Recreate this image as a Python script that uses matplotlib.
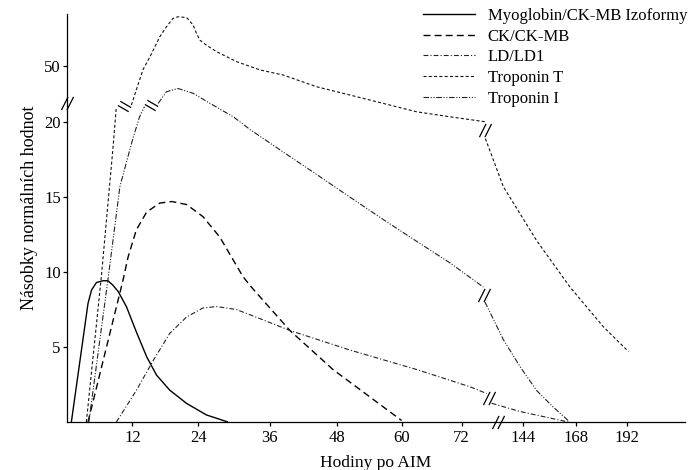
import numpy as np
import matplotlib
matplotlib.use('Agg')
import matplotlib.pyplot as plt
from matplotlib.path import Path
from matplotlib.lines import Line2D

plt.rcParams['font.family'] = ['Liberation Serif', 'DejaVu Serif']
plt.rcParams['lines.scale_dashes'] = False

nan = np.nan

# ---------------- data (hours after AMI, multiples of normal value) ----------------
myo_h = [0.8, 3.85, 4.5, 5.4, 6.6, 7.5, 8.4, 9.4, 10.9, 12.7, 14.6, 16.4, 18.8, 21.9, 25.4, 29.0]
myo_v = [0, 7.9, 8.8, 9.3, 9.42, 9.42, 9.13, 8.69, 7.69, 6.02, 4.35, 3.13, 2.13, 1.24, 0.47, 0]

ck_h = [3.85, 10.3, 11.2, 12.7, 14.6, 17.0, 19.2, 21.9, 24.8, 27.6, 31.5, 32.9, 39.6, 47.3, 60.0]
ck_v = [0, 9.5, 11.0, 12.8, 14.0, 14.6, 14.7, 14.5, 13.7, 12.35, 9.7, 9.0, 6.1, 3.5, 0.1]

ld_h = [9.06, 12.7, 15.8, 18.8, 21.9, 24.8, 27.1, 30.4, 34.3, 39.6, 50.4, 63.0, 81.8, 101.5,
        nan, 107.4, 140.8, 164.7]
ld_v = [0, 2.1, 4.1, 5.9, 7.0, 7.6, 7.7, 7.5, 6.9, 6.1, 4.8, 3.5, 2.35, 1.9,
        nan, 1.25, 0.7, 0]

tnt_h = [3.55, 6.3, 8.45, 9.05,
         nan, 11.8, 13.9, 15.2, 17.0, 18.2, 19.4, 20.3, 21.9, 23.1, 23.7, 24.3, 25.4, 27.1,
         30.5, 34.4, 38.4, 44.4, 50.4, 56.6, 63.0, 69.7, 99.5,
         nan, 100.0, 121.1, 150.3, 165.4, 181.0, 192.8]
tnt_v = [0, 9.7, 18.35, 28.2,
         nan, 29.1, 47.9, 55.0, 65.7, 71.0, 75.5, 76.4, 76.0, 72.0, 67.5, 63.9, 61.2, 57.7,
         52.3, 47.9, 45.2, 38.9, 34.5, 30.0, 25.5, 22.8, 20.2,
         nan, 18.9, 15.7, 12.1, 9.0, 6.35, 4.7]

tni_h = [4.0, 7.5, 9.7, 12.0, 13.3, 14.2,
         nan, 16.7, 18.2, 20.3, 23.1, 26.0, 29.9, 32.7, 38.4, 44.4, 50.4, 56.6, 62.3, 69.7, 97.5,
         nan, 99.5, 121.1, 140.8, 150.3, 157.8, 164.6]
tni_v = [0, 9.47, 15.7, 18.8, 22.8, 28.2,
         nan, 30.0, 36.2, 38.0, 35.4, 30.0, 22.8, 19.5, 18.0, 16.5, 15.0, 13.5, 12.2, 10.6, 9.0,
         nan, 8.0, 5.5, 3.7, 2.1, 1.0, 0.1]

labels = ['Myoglobin/CK-MB Izoformy', 'CK/CK-MB', 'LD/LD1', 'Troponin T', 'Troponin I']
x_ticks = [12, 24, 36, 48, 60, 72, 144, 168, 192]
y_ticks = [5, 10, 15, 20, 50]

# ---------------- broken-axis scales ----------------
H_KNOTS = np.array([-24, 0, 12, 24, 36, 48, 60, 72, 144, 168, 192, 400])
P_KNOTS = np.array([-130.8, 0, 65.4, 131.0, 202.7, 269.7, 334.4, 394.4, 455.4, 508.4, 559.4, 1001.4])
V_KNOTS = np.array([-20, 0, 20, 50, 200])
Q_KNOTS = np.array([-300, 0, 300, 356, 636])

def xf(h):
    return np.interp(h, H_KNOTS, P_KNOTS)

def xi(p):
    return np.interp(p, P_KNOTS, H_KNOTS)

def yf(v):
    return np.interp(v, V_KNOTS, Q_KNOTS)

def yi(q):
    return np.interp(q, Q_KNOTS, V_KNOTS)

fig = plt.figure(figsize=(6.92, 4.70), dpi=100)
ax = fig.add_axes([67 / 692, 48 / 470, 618 / 692, 408 / 470])
ax.set_xscale('function', functions=(xf, xi))
ax.set_yscale('function', functions=(yf, yi))

# break marker paths
steep = Path([(-5.5, -6), (0.5, 6), (-0.5, -6), (5.5, 6)],
             [Path.MOVETO, Path.LINETO, Path.MOVETO, Path.LINETO])
shallow = Path([(-4.35, 5.42), (6.85, -1.08), (-6.85, 1.08), (4.35, -5.42)],
               [Path.MOVETO, Path.LINETO, Path.MOVETO, Path.LINETO])

def split(h, v):
    segs, cur = [], ([], [])
    for a, b in zip(h, v):
        if np.isnan(a):
            segs.append(cur)
            cur = ([], [])
        else:
            cur[0].append(a)
            cur[1].append(b)
    segs.append(cur)
    return segs

styles = [
    dict(color='black', lw=1.0, linestyle='-'),
    dict(color='black', lw=1.0, linestyle=(0, (5.0, 3.0))),
    dict(color='#222222', lw=0.8, linestyle=(0, (3.5, 1.5, 0.8, 1.5))),
    dict(color='#111111', lw=0.8, linestyle=(0, (2.2, 1.6))),
    dict(color='#222222', lw=0.8, linestyle=(0, (4.0, 1.2, 0.8, 1.2, 0.8, 1.2))),
]
series = [(myo_h, myo_v), (ck_h, ck_v), (ld_h, ld_v), (tnt_h, tnt_v), (tni_h, tni_v)]

handles = []
for (h, v), st, lab in zip(series, styles, labels):
    segs = split(h, v)
    for s in segs:
        ax.plot(s[0], s[1], solid_capstyle='butt', dash_capstyle='butt', **st)
    for a, b in zip(segs[:-1], segs[1:]):
        x0, y0, x1, y1 = a[0][-1], a[1][-1], b[0][0], b[1][0]
        mx = xi((xf(x0) + xf(x1)) / 2)
        my = yi((yf(y0) + yf(y1)) / 2)
        mk = shallow if (y0 > 20 and x0 < 72) else steep
        ax.plot([mx], [my], linestyle='none', marker=mk, markersize=9.5,
                markerfacecolor='none', markeredgecolor='black', markeredgewidth=0.9,
                clip_on=False)
    handles.append(Line2D([], [], **st))

ax.set_xlim(0, 219.4)
ax.set_ylim(0, 77.9)
ax.set_xticks(x_ticks)
ax.set_xticklabels([str(t) for t in x_ticks])
ax.set_yticks(y_ticks)
ax.set_yticklabels([str(t) for t in y_ticks])
ax.minorticks_off()

for s in ['top', 'right']:
    ax.spines[s].set_visible(False)
for s in ['left', 'bottom']:
    ax.spines[s].set_linewidth(0.9)
ax.tick_params(axis='both', direction='out', length=3, width=0.9, labelsize=12)
ax.tick_params(axis='y', pad=1.5)
ax.tick_params(axis='x', pad=3)

# axis break marks
AXIS_BREAK_X = 115
AXIS_BREAK_Y = 30.2
ax.plot([AXIS_BREAK_X], [0], linestyle='none', marker=steep, markersize=9.5,
        markerfacecolor='none', markeredgecolor='black', markeredgewidth=0.9, clip_on=False)
ax.plot([0], [AXIS_BREAK_Y], linestyle='none', marker=steep, markersize=9.5,
        markerfacecolor='none', markeredgecolor='black', markeredgewidth=0.9, clip_on=False)

ax.set_xlabel('Hodiny po AIM', fontsize=12.5, labelpad=6)
ax.set_ylabel('Násobky normálních hodnot', fontsize=13, labelpad=7)
ax.yaxis.set_label_coords(-0.047, 0.525)

fig.legend(handles, labels, loc='upper left', bbox_to_anchor=(423 / 692, 1 - 8 / 470),
           frameon=False, fontsize=12, borderpad=0, borderaxespad=0,
           handlelength=3.1, handletextpad=0.78, labelspacing=0.28)

fig.savefig('out.png', dpi=100)
